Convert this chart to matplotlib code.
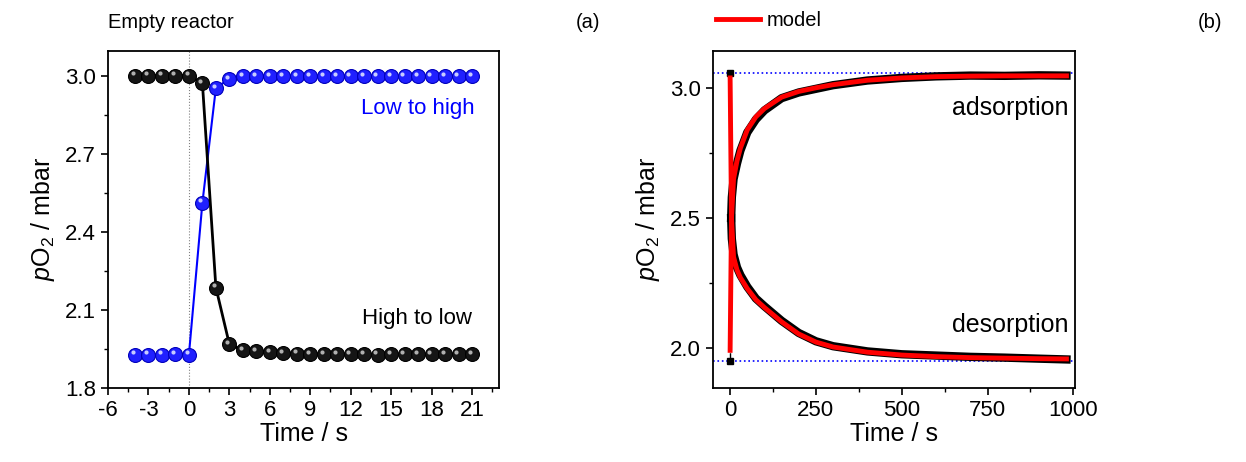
import numpy as np
import matplotlib
matplotlib.use('Agg')
import matplotlib.pyplot as plt
import matplotlib.transforms as mtransforms
from matplotlib.ticker import MultipleLocator

plt.rcParams['font.family'] = ['Liberation Sans', 'DejaVu Sans']
plt.rcParams['mathtext.fontset'] = 'custom'
plt.rcParams['mathtext.rm'] = 'Liberation Sans'
plt.rcParams['mathtext.it'] = 'Liberation Sans:italic'
plt.rcParams['axes.unicode_minus'] = False

# (a) empty reactor
t_a = [-4, -3, -2, -1, 0, 1, 2, 3, 4, 5, 6, 7, 8, 9, 10, 11, 12, 13, 14, 15, 16, 17, 18, 19, 20, 21]
high_to_low = [3.0, 3.0, 3.0, 3.0, 3.0, 2.971, 2.186, 1.968, 1.945, 1.941, 1.938, 1.935, 1.932, 1.931,
               1.930, 1.930, 1.929, 1.929, 1.928, 1.929, 1.929, 1.929, 1.929, 1.929, 1.929, 1.929]
low_to_high = [1.928, 1.928, 1.928, 1.929, 1.928, 2.512, 2.953, 2.988, 2.997, 2.998, 2.998, 2.998,
               2.998, 2.998, 2.999, 2.999, 2.999, 2.998, 2.998, 2.998, 2.998, 2.998, 2.998, 2.998, 2.998, 2.998]

# (b) with sample
t_b = [3, 5, 10, 20, 30, 50, 75, 100, 150, 200, 250, 300, 400, 500, 600, 700, 800, 900, 980]
ads_data = [2.50, 2.58, 2.65, 2.71, 2.76, 2.83, 2.88, 2.915, 2.962, 2.984, 2.998, 3.012, 3.030,
            3.040, 3.046, 3.049, 3.048, 3.050, 3.049]
des_data = [2.50, 2.42, 2.36, 2.31, 2.28, 2.235, 2.19, 2.160, 2.104, 2.057, 2.025, 2.006, 1.986,
            1.975, 1.970, 1.965, 1.962, 1.958, 1.955]
t_model = [0, 4, 10, 20, 30, 50, 75, 100, 150, 200, 250, 300, 400, 500, 600, 700, 800, 900, 980]
ads_model = [3.04, 2.50, 2.65, 2.72, 2.77, 2.84, 2.89, 2.922, 2.966, 2.988, 3.002, 3.014, 3.031,
             3.040, 3.045, 3.047, 3.048, 3.048, 3.048]
des_model = [1.99, 2.50, 2.35, 2.30, 2.27, 2.228, 2.185, 2.155, 2.100, 2.053, 2.022, 2.003, 1.983,
             1.972, 1.966, 1.962, 1.960, 1.958, 1.957]
step_t = [0, 0]
step_p = [3.06, 1.95]
high_level = 3.059
low_level = 1.950

fig = plt.figure(figsize=(12.46, 4.62), dpi=100)
ax1 = fig.add_axes([0.0867, 0.1602, 0.3138, 0.7301])
ax2 = fig.add_axes([0.5722, 0.1602, 0.2906, 0.7301])

# panel a
ax1.axvline(0, color='grey', lw=0.8, ls=':')
ax1.plot(t_a, low_to_high, color='blue', lw=1.5, marker='o', ms=10,
         mfc='#2020ff', mec='#0000bb', mew=0.8, zorder=3)
ax1.plot(t_a, high_to_low, color='black', lw=2, marker='o', ms=10,
         mfc='#151515', mec='black', mew=0.8, zorder=4)
# little shine on the balls
shine = mtransforms.offset_copy(ax1.transData, fig=fig, x=-1.6, y=1.6, units='points')
ax1.plot(t_a, low_to_high, ls='none', marker='o', ms=3, mfc='#c8ccff', mec='none', zorder=5,
         transform=shine)
ax1.plot(t_a, high_to_low, ls='none', marker='o', ms=3, mfc='#b0b0b0', mec='none', zorder=6,
         transform=shine)
ax1.set_xlim(-6, 23)
ax1.set_ylim(1.8, 3.096)
ax1.xaxis.set_minor_locator(MultipleLocator(1.5))
ax1.yaxis.set_major_locator(MultipleLocator(0.3))
ax1.yaxis.set_minor_locator(MultipleLocator(0.15))
ax1.set_xticks([-6, -3, 0, 3, 6, 9, 12, 15, 18, 21])
ax1.set_xlabel('Time / s', fontsize=18, labelpad=1)
ax1.set_ylabel('$p$O$_2$ / mbar', fontsize=18, labelpad=6)
ax1.text(21.2, 2.875, 'Low to high', color='blue', fontsize=16, ha='right', va='center')
ax1.text(20.96, 2.068, 'High to low', color='black', fontsize=16, ha='right', va='center')

# panel b
ax2.axhline(high_level, color='blue', lw=1.2, ls=':')
ax2.axhline(low_level, color='blue', lw=1.2, ls=':')
ax2.plot(step_t, step_p, color='black', lw=1, ls='--', marker='s', ms=5, zorder=2)
ax2.plot(t_b, ads_data, color='black', lw=6, zorder=3)
ax2.plot(t_b, des_data, color='black', lw=6, zorder=3)
ax2.plot(t_model, ads_model, color='red', lw=3.5, zorder=4)
ax2.plot(t_model, des_model, color='red', lw=3.5, zorder=4, label='model')
ax2.set_xlim(-50, 1005)
ax2.set_ylim(1.845, 3.145)
ax2.xaxis.set_major_locator(MultipleLocator(250))
ax2.xaxis.set_minor_locator(MultipleLocator(125))
ax2.yaxis.set_major_locator(MultipleLocator(0.5))
ax2.yaxis.set_minor_locator(MultipleLocator(0.25))
ax2.set_xlabel('Time / s', fontsize=18, labelpad=1)
ax2.set_ylabel('$p$O$_2$ / mbar', fontsize=18, labelpad=6)
ax2.text(985, 2.924, 'adsorption', fontsize=18, ha='right', va='center')
ax2.text(985, 2.087, 'desorption', fontsize=18, ha='right', va='center')

for ax in (ax1, ax2):
    ax.tick_params(which='major', direction='out', length=5, width=1.2, labelsize=16)
    ax.tick_params(which='minor', direction='out', length=3, width=1)
    for s in ax.spines.values():
        s.set_linewidth(1.3)

# header texts and model key
fig.text(108 / 1246, 1 - 22 / 462, 'Empty reactor', fontsize=14.5, ha='left', va='center')
fig.text(600 / 1246, 1 - 22 / 462, '(a)', fontsize=14.5, ha='right', va='center')
fig.text(1222 / 1246, 1 - 22 / 462, '(b)', fontsize=14.5, ha='right', va='center')
h, l = ax2.get_legend_handles_labels()
fig.legend(h, l, loc='center left', bbox_to_anchor=(716 / 1246, 1 - 21 / 462), frameon=False,
           fontsize=14.5, handlelength=2.2, handletextpad=0.3, borderaxespad=0, borderpad=0)

fig.savefig('out.png', dpi=100)
